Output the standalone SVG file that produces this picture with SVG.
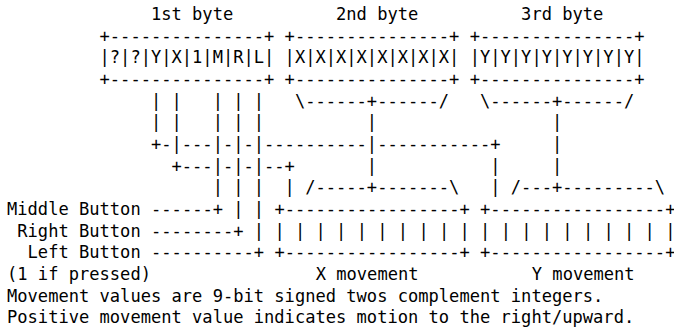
<svg xmlns="http://www.w3.org/2000/svg" width="674" height="334" viewBox="0 0 674 334">
<style>
  .t { font-family: "DejaVu Sans Mono", "Liberation Mono", monospace; font-size: 17.09px; fill: #000; white-space: pre; }
</style>
<rect x="0" y="0" width="674" height="334" fill="#fff"/>
<g id="byte-headers">
  <text class="t" x="7" y="20" xml:space="preserve">              1st byte          2nd byte          3rd byte</text>
</g>
<g id="byte-boxes">
  <text class="t" x="7" y="41.67" xml:space="preserve">         +---------------+ +---------------+ +---------------+</text>
  <text class="t" x="7" y="63.33" xml:space="preserve">         |?|?|Y|X|1|M|R|L| |X|X|X|X|X|X|X|X| |Y|Y|Y|Y|Y|Y|Y|Y|</text>
  <text class="t" x="7" y="85" xml:space="preserve">         +---------------+ +---------------+ +---------------+</text>
</g>
<g id="connectors">
  <text class="t" x="7" y="106.67" xml:space="preserve">              | |   | | |   \------+------/   \------+------/</text>
  <text class="t" x="7" y="128.33" xml:space="preserve">              | |   | | |          |                 |</text>
  <text class="t" x="7" y="150" xml:space="preserve">              +-|---|-|-|----------|-----------+     |</text>
  <text class="t" x="7" y="171.67" xml:space="preserve">                +---|-|-|--+       |           |     |</text>
  <text class="t" x="7" y="193.33" xml:space="preserve">                    | | |  | /-----+-------\   | /---+---------\</text>
  <text class="t" x="151.06" y="215" xml:space="preserve">------+ | | +-----------------+ +-----------------+</text>
  <text class="t" x="151.06" y="236.67" xml:space="preserve">--------+ | | | | | | | | | | | | | | | | | | | | |</text>
  <text class="t" x="151.06" y="258.33" xml:space="preserve">----------+ +-----------------+ +-----------------+</text>
</g>
<g id="labels">
  <text class="t" x="7" y="215" xml:space="preserve">Middle Button</text>
  <text class="t" x="7" y="236.67" xml:space="preserve"> Right Button</text>
  <text class="t" x="7" y="258.33" xml:space="preserve">  Left Button</text>
  <text class="t" x="7" y="280" xml:space="preserve">(1 if pressed)</text>
  <text class="t" x="315.7" y="280" xml:space="preserve">X movement</text>
  <text class="t" x="531.8" y="280" xml:space="preserve">Y movement</text>
  <text class="t" x="7" y="301.67" xml:space="preserve">Movement values are 9-bit signed twos complement integers.</text>
  <text class="t" x="7" y="323.33" xml:space="preserve">Positive movement value indicates motion to the right/upward.</text>
</g>
</svg>
